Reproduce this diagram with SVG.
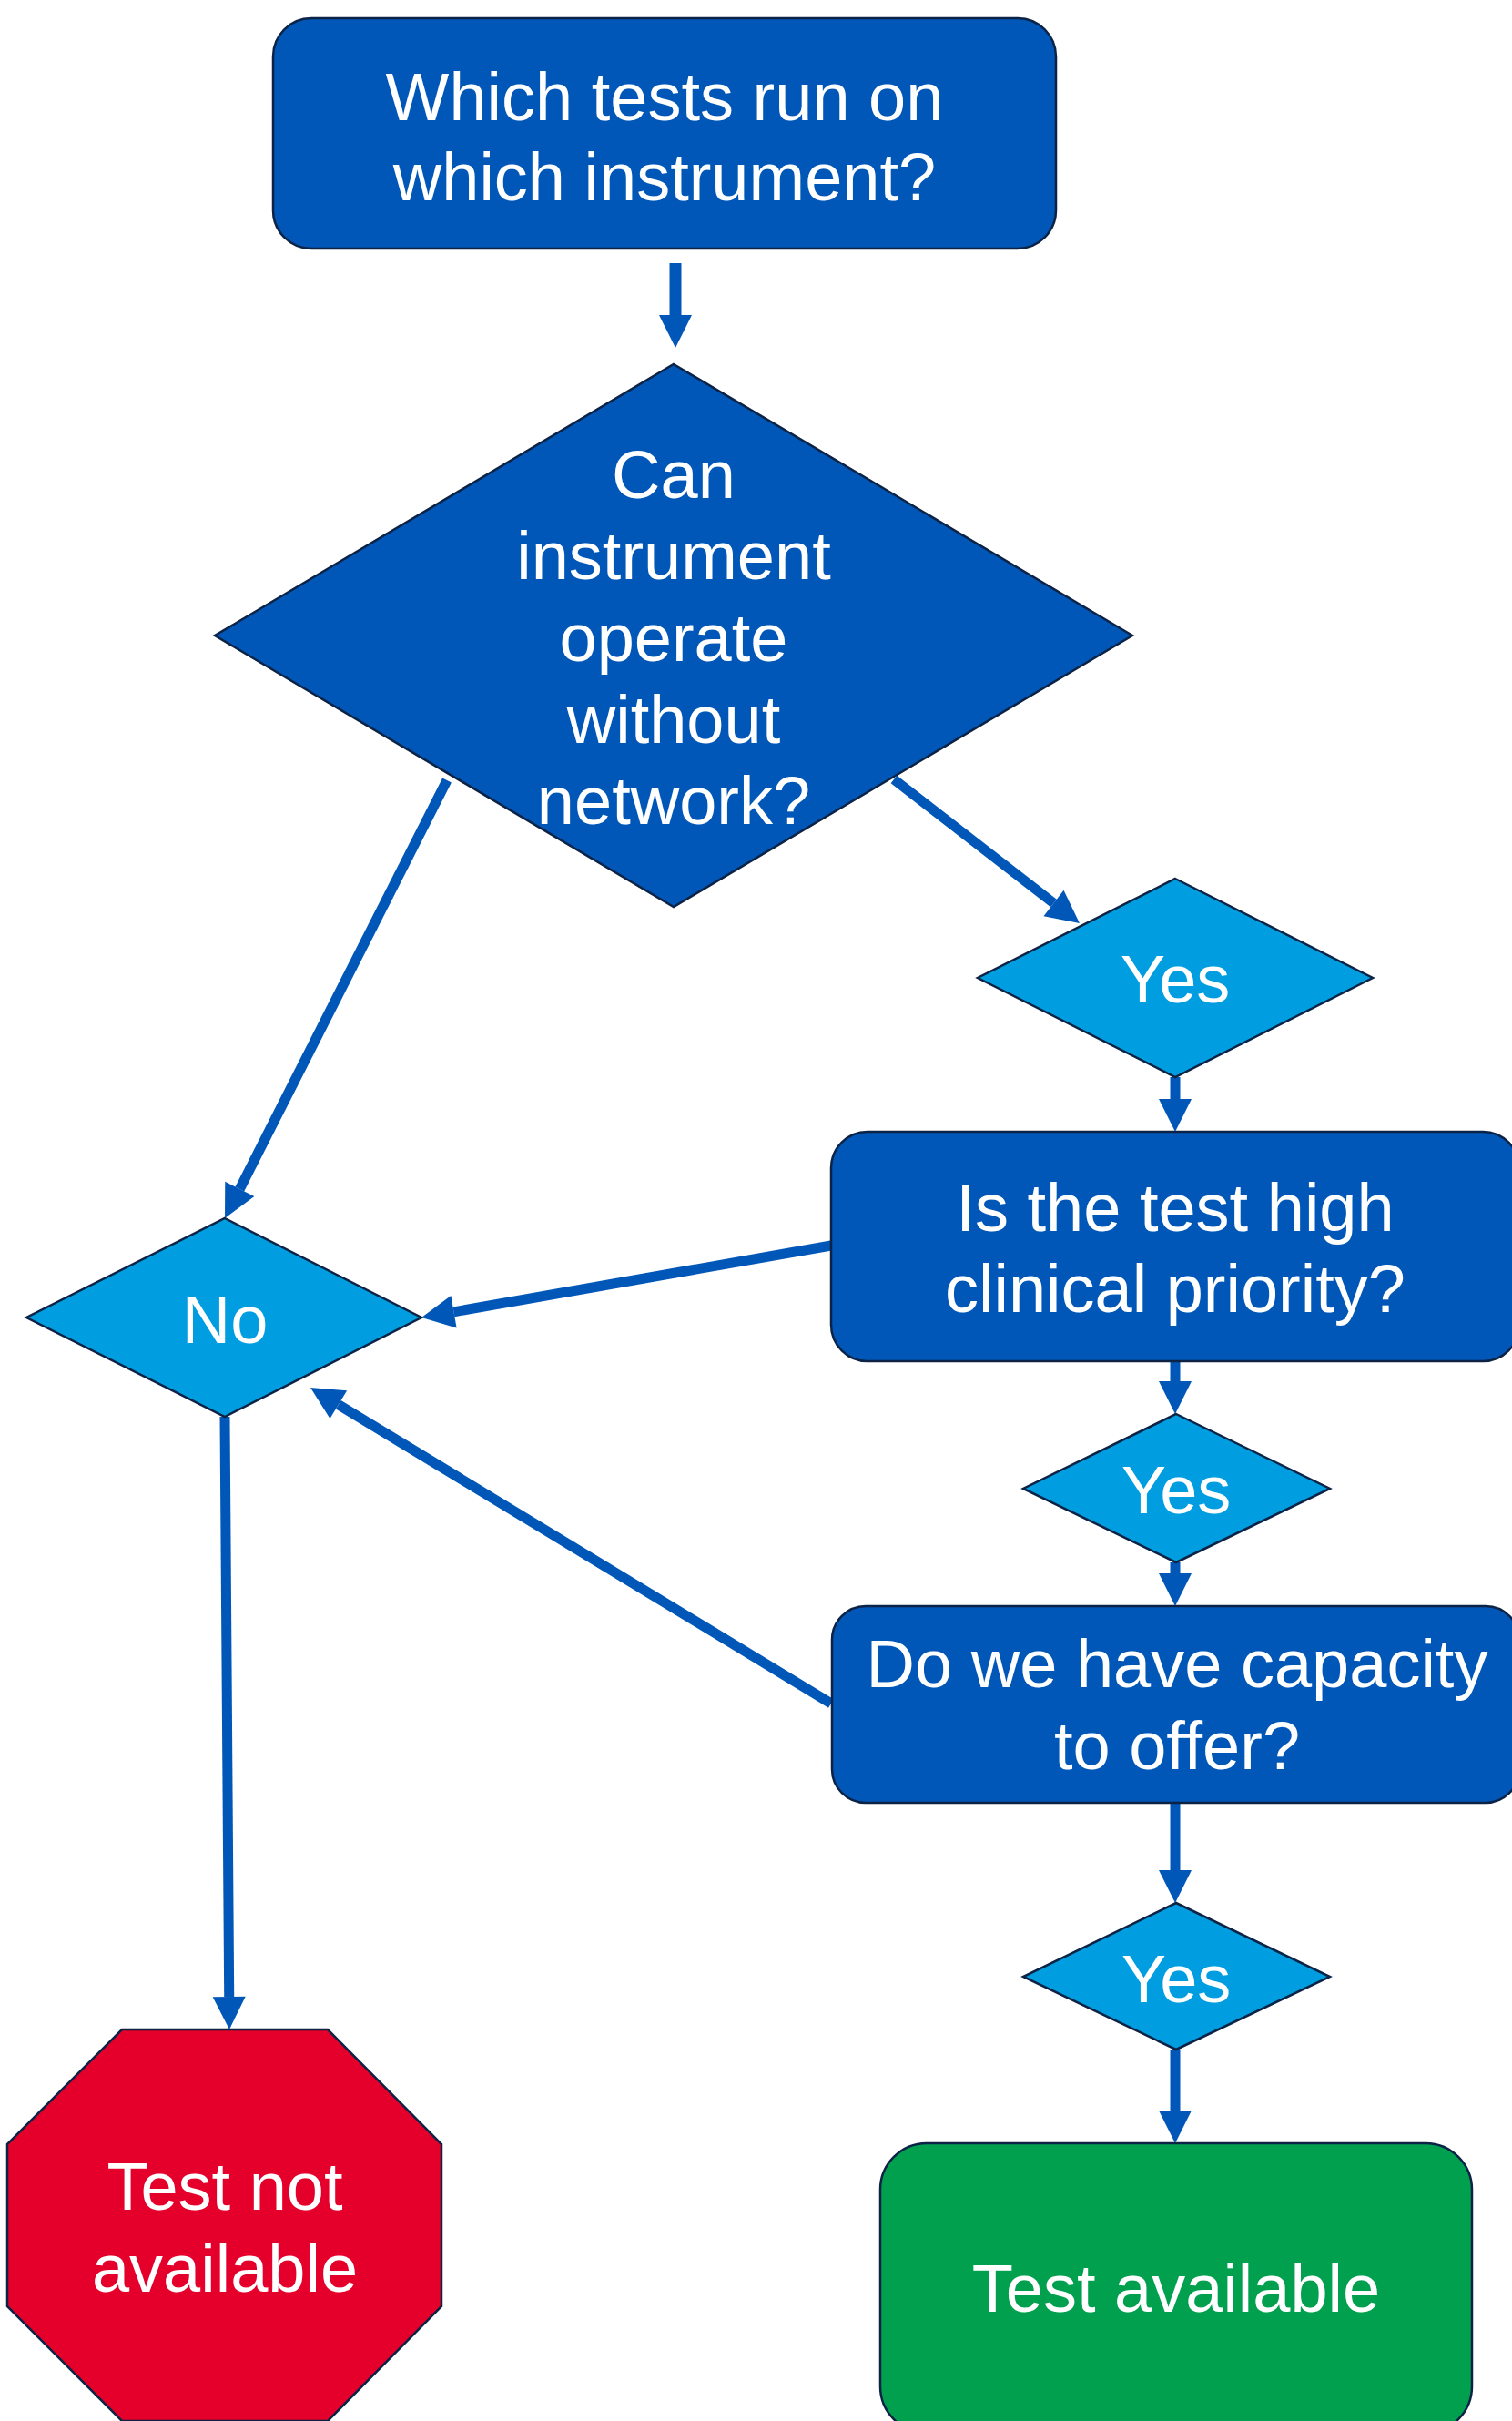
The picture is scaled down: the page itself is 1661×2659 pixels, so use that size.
<svg xmlns="http://www.w3.org/2000/svg" width="1661" height="2659" viewBox="0 0 1661 2659">
<style>
.t{font-family:"Liberation Sans",Arial,sans-serif;font-size:74px;fill:#ffffff;text-anchor:middle}
.dk{fill:#0057B8;stroke:#0C2345;stroke-width:2.5}
.lt{fill:#009EE0;stroke:#0C2345;stroke-width:2.5}
.c{stroke:#0057B8;stroke-width:11;fill:none;marker-end:url(#ah)}
</style>
<defs>
<marker id="ah" markerUnits="userSpaceOnUse" markerWidth="36" markerHeight="36" refX="0" refY="18" orient="auto" overflow="visible">
<path d="M0,0 L36,18 L0,36 z" fill="#0057B8"/>
</marker>
</defs>
<rect width="1661" height="2659" fill="#ffffff"/>
<g id="connectors">
<line class="c" x1="742" y1="289" x2="742" y2="346" style="stroke-width:13"/>
<line class="c" x1="982" y1="856" x2="1157.5" y2="992"/>
<line class="c" x1="491" y1="857" x2="263.3" y2="1305.9"/>
<line class="c" x1="1291" y1="1183" x2="1291" y2="1207"/>
<line class="c" x1="913" y1="1368" x2="498.5" y2="1440.8"/>
<line class="c" x1="1291" y1="1495" x2="1291" y2="1517"/>
<line class="c" x1="1291" y1="1716" x2="1291" y2="1728"/>
<line class="c" x1="913" y1="1871" x2="371.8" y2="1542.7"/>
<line class="c" x1="1291" y1="1980" x2="1291" y2="2054"/>
<line class="c" x1="1291" y1="2251" x2="1291" y2="2318"/>
<line class="c" x1="247" y1="1556" x2="251.7" y2="2193"/>
</g>
<g id="start">
<rect class="dk" x="300" y="20" width="860" height="253" rx="42"/>
<text class="t" x="730" y="132">Which tests run on</text>
<text class="t" x="730" y="220">which instrument?</text>
</g>
<g id="q-network">
<polygon class="dk" points="740,400 1244,698 740,996 236,698"/>
<text class="t" x="740" y="547">Can</text>
<text class="t" x="740" y="636">instrument</text>
<text class="t" x="740" y="726">operate</text>
<text class="t" x="740" y="816">without</text>
<text class="t" x="740" y="905">network?</text>
</g>
<g id="yes1">
<polygon class="lt" points="1291,965 1508,1074 1291,1183 1074,1074"/>
<text class="t" x="1291" y="1101">Yes</text>
</g>
<g id="q-priority">
<rect class="dk" x="913" y="1243" width="756" height="252" rx="40"/>
<text class="t" x="1291" y="1352">Is the test high</text>
<text class="t" x="1291" y="1441">clinical priority?</text>
</g>
<g id="no">
<polygon class="lt" points="247,1338 463,1447 247,1556 29,1447"/>
<text class="t" x="247" y="1475">No</text>
</g>
<g id="yes2">
<polygon class="lt" points="1292,1553 1461,1635 1292,1716 1124,1635"/>
<text class="t" x="1292" y="1662">Yes</text>
</g>
<g id="q-capacity">
<rect class="dk" x="914" y="1764" width="755" height="216" rx="37"/>
<text class="t" x="1293" y="1853">Do we have capacity</text>
<text class="t" x="1293" y="1943">to offer?</text>
</g>
<g id="yes3">
<polygon class="lt" points="1292,2090 1461,2171 1292,2251 1124,2171"/>
<text class="t" x="1292" y="2199">Yes</text>
</g>
<g id="not-available">
<polygon points="134,2229 360,2229 485,2355 485,2533 360,2659 134,2659 8,2533 8,2355" fill="#E4002B" stroke="#0C2345" stroke-width="2.5"/>
<text class="t" x="247" y="2427">Test not</text>
<text class="t" x="247" y="2517">available</text>
</g>
<g id="available">
<rect x="967" y="2354" width="650" height="318" rx="51" fill="#00A04E" stroke="#0C2345" stroke-width="2.5"/>
<text class="t" x="1292" y="2539">Test available</text>
</g>
</svg>
